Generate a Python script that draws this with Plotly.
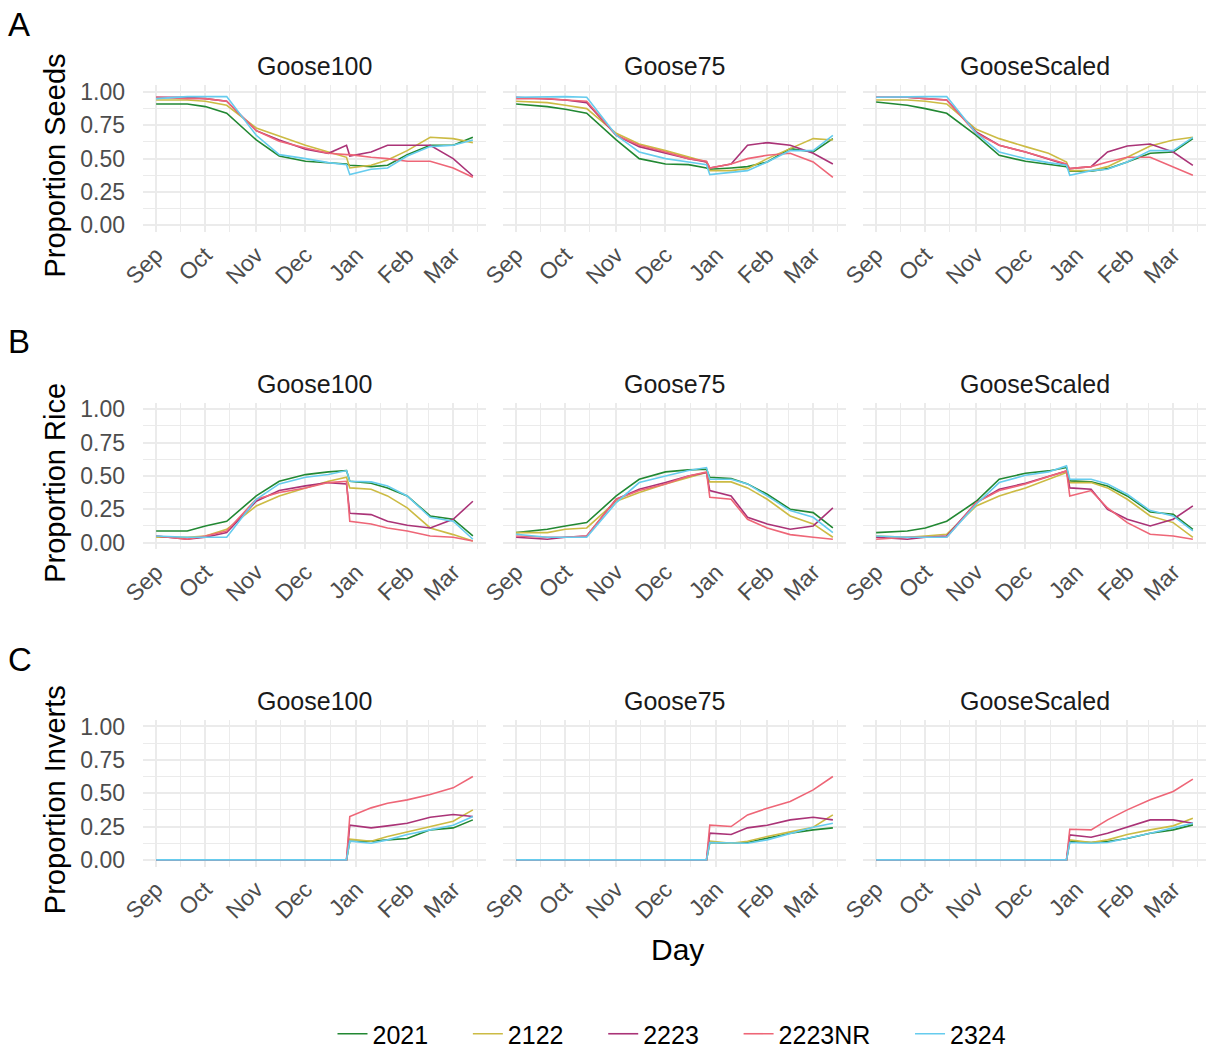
import plotly.graph_objects as go

# dates of the points (dummy season year)
dates = ["2021-09-01", "2021-09-20", "2021-10-01", "2021-10-14", "2021-11-01",
         "2021-11-15", "2021-12-01", "2021-12-15", "2021-12-26", "2021-12-28",
         "2022-01-10", "2022-01-20", "2022-02-01", "2022-02-15", "2022-03-01",
         "2022-03-13"]

seasons = ["2021", "2122", "2223", "2223NR", "2324"]
colours = ["#228833", "#CCBB44", "#AA3377", "#EE6677", "#66CCEE"]
scenarios = ["Goose100", "Goose75", "GooseScaled"]
responses = ["Seeds", "Rice", "Inverts"]
tags = ["A", "B", "C"]

month_ticks = ["2021-09-01", "2021-10-01", "2021-11-01", "2021-12-01",
               "2022-01-01", "2022-02-01", "2022-03-01"]
month_labels = ["Sep", "Oct", "Nov", "Dec", "Jan", "Feb", "Mar"]
mid_month_ticks = ["2021-09-16", "2021-10-16", "2021-11-16", "2021-12-16",
                   "2022-01-16", "2022-02-14", "2022-03-16"]

# Proportion Seeds
seeds_goose100 = {
    "2021":   [0.91, 0.91, 0.89, 0.84, 0.64, 0.52, 0.48, 0.47, 0.46, 0.45, 0.44, 0.45, 0.53, 0.60, 0.60, 0.66],
    "2122":   [0.94, 0.94, 0.93, 0.90, 0.73, 0.67, 0.60, 0.55, 0.51, 0.43, 0.45, 0.49, 0.56, 0.66, 0.65, 0.62],
    "2223":   [0.96, 0.96, 0.95, 0.93, 0.71, 0.64, 0.57, 0.54, 0.60, 0.52, 0.55, 0.60, 0.60, 0.60, 0.50, 0.37],
    "2223NR": [0.96, 0.95, 0.95, 0.93, 0.71, 0.63, 0.58, 0.54, 0.53, 0.53, 0.51, 0.50, 0.48, 0.48, 0.43, 0.36],
    "2324":   [0.95, 0.965, 0.965, 0.965, 0.675, 0.53, 0.50, 0.47, 0.455, 0.38, 0.42, 0.43, 0.52, 0.59, 0.60, 0.64],
}
seeds_goose75 = {
    "2021":   [0.91, 0.89, 0.87, 0.84, 0.64, 0.50, 0.46, 0.455, 0.43, 0.42, 0.43, 0.44, 0.475, 0.575, 0.55, 0.65],
    "2122":   [0.93, 0.92, 0.90, 0.875, 0.69, 0.61, 0.56, 0.51, 0.475, 0.41, 0.41, 0.425, 0.50, 0.575, 0.65, 0.64],
    "2223":   [0.96, 0.95, 0.94, 0.92, 0.675, 0.59, 0.54, 0.50, 0.475, 0.43, 0.46, 0.60, 0.62, 0.60, 0.54, 0.46],
    "2223NR": [0.95, 0.95, 0.94, 0.93, 0.675, 0.60, 0.55, 0.50, 0.48, 0.43, 0.46, 0.50, 0.525, 0.54, 0.475, 0.36],
    "2324":   [0.96, 0.965, 0.965, 0.96, 0.675, 0.55, 0.50, 0.475, 0.455, 0.38, 0.40, 0.41, 0.475, 0.56, 0.56, 0.675],
}
seeds_goosescaled = {
    "2021":   [0.925, 0.90, 0.875, 0.84, 0.675, 0.525, 0.48, 0.455, 0.44, 0.405, 0.405, 0.425, 0.475, 0.54, 0.55, 0.65],
    "2122":   [0.94, 0.94, 0.93, 0.91, 0.72, 0.65, 0.59, 0.54, 0.475, 0.41, 0.41, 0.44, 0.51, 0.595, 0.64, 0.66],
    "2223":   [0.96, 0.96, 0.95, 0.94, 0.70, 0.60, 0.55, 0.50, 0.455, 0.425, 0.44, 0.55, 0.595, 0.61, 0.55, 0.45],
    "2223NR": [0.96, 0.96, 0.95, 0.94, 0.69, 0.60, 0.55, 0.50, 0.46, 0.425, 0.44, 0.475, 0.51, 0.51, 0.44, 0.375],
    "2324":   [0.96, 0.965, 0.965, 0.965, 0.69, 0.55, 0.50, 0.47, 0.45, 0.375, 0.41, 0.42, 0.475, 0.56, 0.56, 0.66],
}

# Proportion Rice
rice_goose100 = {
    "2021":   [0.0875, 0.0875, 0.125, 0.16, 0.35, 0.46, 0.51, 0.53, 0.54, 0.46, 0.445, 0.41, 0.35, 0.20, 0.175, 0.05],
    "2122":   [0.04, 0.04, 0.05, 0.10, 0.275, 0.35, 0.41, 0.46, 0.49, 0.41, 0.40, 0.35, 0.26, 0.11, 0.06, 0.0125],
    "2223":   [0.05, 0.025, 0.04, 0.075, 0.31, 0.39, 0.425, 0.45, 0.44, 0.22, 0.21, 0.16, 0.13, 0.11, 0.175, 0.31],
    "2223NR": [0.05, 0.025, 0.05, 0.0875, 0.325, 0.375, 0.41, 0.45, 0.46, 0.16, 0.14, 0.11, 0.0875, 0.05, 0.04, 0.0125],
    "2324":   [0.05, 0.04, 0.04, 0.04, 0.325, 0.44, 0.49, 0.51, 0.54, 0.46, 0.455, 0.425, 0.35, 0.19, 0.16, 0.025],
}
rice_goose75 = {
    "2021":   [0.075, 0.10, 0.125, 0.15, 0.35, 0.475, 0.53, 0.545, 0.55, 0.49, 0.48, 0.44, 0.3625, 0.25, 0.225, 0.11],
    "2122":   [0.075, 0.075, 0.10, 0.11, 0.31, 0.375, 0.44, 0.49, 0.525, 0.455, 0.455, 0.41, 0.325, 0.20, 0.14, 0.04],
    "2223":   [0.04, 0.025, 0.04, 0.05, 0.325, 0.40, 0.45, 0.50, 0.525, 0.39, 0.35, 0.19, 0.14, 0.10, 0.125, 0.26],
    "2223NR": [0.05, 0.04, 0.04, 0.05, 0.325, 0.39, 0.44, 0.50, 0.53, 0.34, 0.325, 0.175, 0.11, 0.06, 0.04, 0.025],
    "2324":   [0.0625, 0.04, 0.04, 0.04, 0.30, 0.45, 0.50, 0.54, 0.5625, 0.475, 0.475, 0.44, 0.35, 0.24, 0.19, 0.075],
}
rice_goosescaled = {
    "2021":   [0.075, 0.0875, 0.11, 0.16, 0.31, 0.475, 0.52, 0.5375, 0.5625, 0.4625, 0.455, 0.425, 0.35, 0.23, 0.2125, 0.10],
    "2122":   [0.05, 0.04, 0.05, 0.0625, 0.275, 0.35, 0.41, 0.475, 0.525, 0.45, 0.45, 0.41, 0.325, 0.20, 0.15, 0.04],
    "2223":   [0.04, 0.025, 0.04, 0.05, 0.30, 0.40, 0.445, 0.50, 0.5375, 0.41, 0.40, 0.25, 0.175, 0.125, 0.175, 0.275],
    "2223NR": [0.025, 0.04, 0.04, 0.04, 0.30, 0.39, 0.44, 0.495, 0.5375, 0.35, 0.39, 0.26, 0.15, 0.0625, 0.05, 0.025],
    "2324":   [0.05, 0.04, 0.04, 0.04, 0.2875, 0.45, 0.505, 0.53, 0.575, 0.475, 0.475, 0.44, 0.3625, 0.24, 0.20, 0.0875],
}

# Proportion Inverts (zero until the late-December flooding)
inverts_goose100 = {
    "2021":   [0, 0, 0, 0, 0, 0, 0, 0, 0, 0.14, 0.14, 0.15, 0.16, 0.225, 0.24, 0.30],
    "2122":   [0, 0, 0, 0, 0, 0, 0, 0, 0, 0.155, 0.14, 0.175, 0.21, 0.25, 0.29, 0.375],
    "2223":   [0, 0, 0, 0, 0, 0, 0, 0, 0, 0.26, 0.24, 0.255, 0.275, 0.32, 0.34, 0.325],
    "2223NR": [0, 0, 0, 0, 0, 0, 0, 0, 0, 0.325, 0.39, 0.425, 0.45, 0.49, 0.54, 0.625],
    "2324":   [0, 0, 0, 0, 0, 0, 0, 0, 0, 0.14, 0.125, 0.15, 0.19, 0.225, 0.26, 0.325],
}
inverts_goose75 = {
    "2021":   [0, 0, 0, 0, 0, 0, 0, 0, 0, 0.13, 0.125, 0.13, 0.16, 0.20, 0.225, 0.24],
    "2122":   [0, 0, 0, 0, 0, 0, 0, 0, 0, 0.14, 0.125, 0.14, 0.175, 0.21, 0.245, 0.3375],
    "2223":   [0, 0, 0, 0, 0, 0, 0, 0, 0, 0.20, 0.19, 0.24, 0.26, 0.30, 0.32, 0.30],
    "2223NR": [0, 0, 0, 0, 0, 0, 0, 0, 0, 0.26, 0.25, 0.3375, 0.3875, 0.4375, 0.525, 0.625],
    "2324":   [0, 0, 0, 0, 0, 0, 0, 0, 0, 0.13, 0.125, 0.125, 0.15, 0.20, 0.245, 0.275],
}
inverts_goosescaled = {
    "2021":   [0, 0, 0, 0, 0, 0, 0, 0, 0, 0.1375, 0.13, 0.1375, 0.16, 0.20, 0.225, 0.2625],
    "2122":   [0, 0, 0, 0, 0, 0, 0, 0, 0, 0.15, 0.13, 0.15, 0.19, 0.225, 0.255, 0.3125],
    "2223":   [0, 0, 0, 0, 0, 0, 0, 0, 0, 0.1875, 0.17, 0.20, 0.245, 0.30, 0.30, 0.275],
    "2223NR": [0, 0, 0, 0, 0, 0, 0, 0, 0, 0.23, 0.225, 0.30, 0.375, 0.45, 0.5125, 0.605],
    "2324":   [0, 0, 0, 0, 0, 0, 0, 0, 0, 0.13, 0.125, 0.13, 0.16, 0.20, 0.24, 0.275],
}

panels = [
    [seeds_goose100, seeds_goose75, seeds_goosescaled],
    [rice_goose100, rice_goose75, rice_goosescaled],
    [inverts_goose100, inverts_goose75, inverts_goosescaled],
]

W, H = 1206, 1057
FONT = "Arial, Liberation Sans, sans-serif"

# panel positions in pixels (left, right) and (top, bottom)
cols_px = [(143, 486), (503, 846), (863, 1206)]
rows_px = [(86, 234), (406, 554), (726, 874)]


def px(x):
    return x / W


def py(y):
    return 1 - y / H


fig = go.Figure()
annotations = []

for r in range(3):
    for c in range(3):
        k = r * 3 + c + 1
        xa = "x" if k == 1 else f"x{k}"
        ya = "y" if k == 1 else f"y{k}"
        for s, col in zip(seasons, colours):
            # trailing no-break spaces open up the legend like ggplot's
            label = s if s == seasons[-1] else s + "\u00a0" * 5
            fig.add_trace(go.Scatter(
                x=dates, y=panels[r][c][s], mode="lines",
                line=dict(color=col, width=1.6),
                name=label, legendgroup=s, showlegend=(k == 1),
                xaxis=xa, yaxis=ya))

        xl, xr = cols_px[c]
        yt, yb = rows_px[r]
        fig.layout[f"xaxis{'' if k == 1 else k}"] = dict(
            domain=[px(xl), px(xr)], anchor=ya, type="date",
            automargin=False, range=["2021-08-24", "2022-03-21"],
            tickmode="array", tickvals=month_ticks, ticktext=month_labels,
            tickangle=-45, ticklabelstandoff=4,
            tickfont=dict(size=23, color="#4D4D4D", family=FONT),
            showgrid=True, gridcolor="#EBEBEB", gridwidth=1.6,
            minor=dict(tickmode="array", tickvals=mid_month_ticks, showgrid=True,
                       gridcolor="#EBEBEB", gridwidth=1.0),
            zeroline=False, showline=False, ticks="")
        fig.layout[f"yaxis{'' if k == 1 else k}"] = dict(
            domain=[py(yb), py(yt)], anchor=xa, range=[-0.05, 1.05], automargin=False,
            tickmode="array", tickvals=[0, 0.25, 0.5, 0.75, 1.0],
            ticktext=["0.00", "0.25", "0.50", "0.75", "1.00"],
            showticklabels=(c == 0), ticklabelstandoff=17,
            tickfont=dict(size=23, color="#4D4D4D", family=FONT),
            showgrid=True, gridcolor="#EBEBEB", gridwidth=1.6,
            minor=dict(tickmode="array", tickvals=[0.125, 0.375, 0.625, 0.875],
                       showgrid=True, gridcolor="#EBEBEB", gridwidth=1.0),
            zeroline=False, showline=False, ticks="")

        # facet strip title
        annotations.append(dict(
            x=px((xl + xr) / 2), y=py(yt - 19), xref="paper", yref="paper",
            text=scenarios[c], showarrow=False, xanchor="center", yanchor="middle",
            font=dict(size=25, color="#1A1A1A", family=FONT)))

    # row y title and tag
    yt, yb = rows_px[r]
    annotations.append(dict(
        x=px(55), y=py((yt + yb) / 2 + 7), xref="paper", yref="paper",
        text=f"Proportion {responses[r]}", showarrow=False, textangle=-90,
        xanchor="center", yanchor="middle",
        font=dict(size=29, color="black", family=FONT)))
    annotations.append(dict(
        x=px(6), y=py(yt - 82), xref="paper", yref="paper",
        text=tags[r], showarrow=False, xanchor="left", yanchor="top",
        font=dict(size=33, color="black", family=FONT)))

annotations.append(dict(
    x=px(677), y=py(958), xref="paper", yref="paper", text="Day",
    showarrow=False, xanchor="center", yanchor="middle",
    font=dict(size=30, color="black", family=FONT)))

fig.update_layout(
    template="none",
    width=W, height=H,
    margin=dict(l=0, r=0, t=0, b=0),
    paper_bgcolor="white", plot_bgcolor="white",
    annotations=annotations,
    legend=dict(orientation="h", x=px(672), xanchor="center",
                y=py(1043), yanchor="middle",
                font=dict(size=25, color="black", family=FONT),
                tracegroupgap=0),
)

# drop the default page margin so the figure fills the window exactly
fig.write_html("out.html", config={"displayModeBar": False},
               post_script="document.body.style.margin = '0';")
